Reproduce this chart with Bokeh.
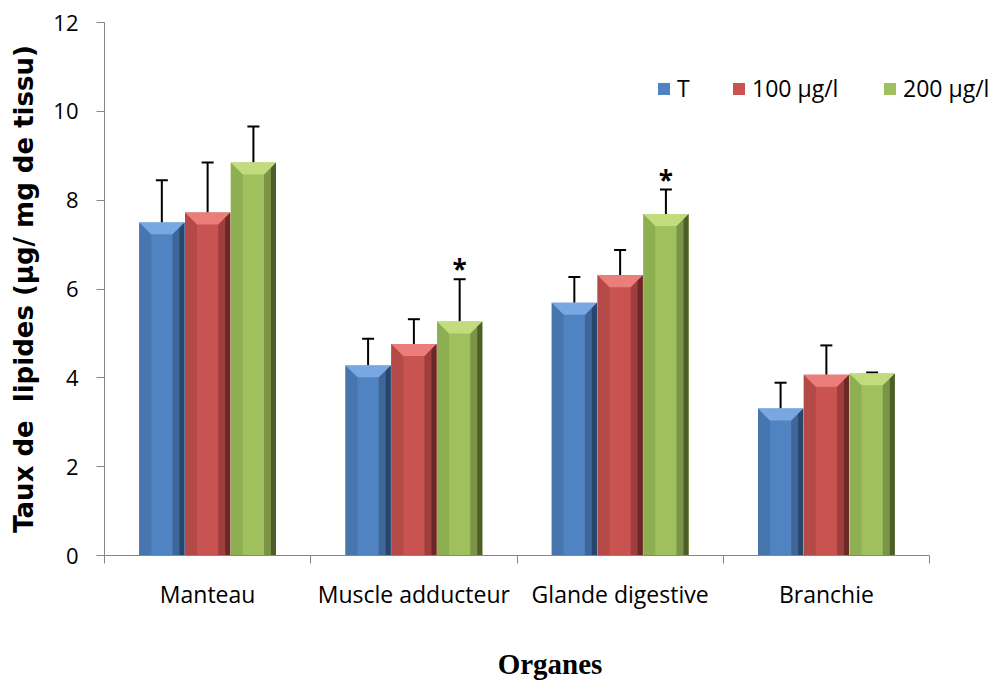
from bokeh.plotting import figure
from bokeh.models import (Range1d, FixedTicker, Whisker, TeeHead, Legend, LegendItem,
                          ColumnDataSource)
from bokeh.core.properties import value
from bokeh.embed import file_html
from bokeh.resources import INLINE

# ---------------- data ----------------
categories = ["Manteau", "Muscle adducteur", "Glande digestive", "Branchie"]
series = ["T", "100 µg/l", "200 µg/l"]
t_vals = [7.50, 4.28, 5.69, 3.31]
t_err = [0.95, 0.60, 0.58, 0.58]
c100_vals = [7.72, 4.76, 6.31, 4.07]
c100_err = [1.13, 0.56, 0.57, 0.66]
c200_vals = [8.85, 5.27, 7.69, 4.10]
c200_err = [0.81, 0.95, 0.55, 0.02]
c200_sig = ["", "*", "*", ""]
y_ticks = [0, 2, 4, 6, 8, 10, 12]

values = [t_vals, c100_vals, c200_vals]
errors = [t_err, c100_err, c200_err]
sigs = [["", "", "", ""], ["", "", "", ""], c200_sig]

# ---------------- styles ----------------
main_col = ["#5083c2", "#c95350", "#9fc05c"]
light_col = ["#78a7e2", "#eb7e7b", "#c0dc7c"]
left_col = ["#4775ae", "#b44a47", "#8eae52"]
mid_col = ["#3f6699", "#9e3f3d", "#7b9446"]
dark_col = ["#28456b", "#6b2826", "#4d5e2a"]
offsets = [-0.222, 0.0, 0.222]
bar_w = 0.219

W, H = 995, 682
FRAME_L, FRAME_R_DATA_PX = 104, 825   # 4 categories span 825 px
x_max = 4.0 * (W - FRAME_L) / FRAME_R_DATA_PX

p = figure(width=W, height=H, output_backend="svg", toolbar_location=None,
           x_range=Range1d(0, x_max), y_range=Range1d(0, 12),
           min_border_left=FRAME_L, min_border_right=0, min_border_top=22,
           min_border_bottom=126)
p.outline_line_color = None
p.xgrid.grid_line_color = None
p.ygrid.grid_line_color = None
p.background_fill_color = "white"
p.border_fill_color = "white"

px_x = 4.0 / 825.0
px_y = 12.0 / 534.0
inset_x = 12 * px_x
edge_x = 5 * px_x
bevel_y = 12 * px_y

font = value("Open Sans")
main_renderers = []
for j in range(3):
    xs = [i + 0.5 + offsets[j] for i in range(4)]
    tops = values[j]
    src = ColumnDataSource(dict(x=xs, top=tops))
    r = p.vbar(x="x", top="top", bottom=0, width=bar_w, source=src,
               fill_color=main_col[j], line_color=None)
    main_renderers.append(r)
    lefts = [x - bar_w / 2 for x in xs]
    rights = [x + bar_w / 2 for x in xs]
    # left bevel
    p.patches(xs=[[l, l, l + inset_x, l + inset_x] for l in lefts],
              ys=[[0, t, t - bevel_y, 0] for t in tops],
              fill_color=left_col[j], line_color=None)
    # right bevel (two tones)
    p.patches(xs=[[r_, r_, r_ - inset_x, r_ - inset_x] for r_ in rights],
              ys=[[0, t, t - bevel_y, 0] for t in tops],
              fill_color=mid_col[j], line_color=None)
    p.patches(xs=[[r_, r_, r_ - edge_x, r_ - edge_x] for r_ in rights],
              ys=[[0, t, t - bevel_y * edge_x / inset_x, 0] for t in tops],
              fill_color=dark_col[j], line_color=None)
    # top bevel
    p.patches(xs=[[l, r_, r_ - inset_x, l + inset_x] for l, r_ in zip(lefts, rights)],
              ys=[[t, t, t - bevel_y, t - bevel_y] for t in tops],
              fill_color=light_col[j], line_color=None)
    # error bars (upper only)
    esrc = ColumnDataSource(dict(x=xs, lo=tops,
                                 hi=[t + e for t, e in zip(tops, errors[j])]))
    wh = Whisker(base="x", lower="lo", upper="hi", source=esrc, dimension="height",
                 line_color="black", line_width=2, lower_head=None,
                 upper_head=TeeHead(size=12, line_width=2, line_color="black"))
    p.add_layout(wh)
    # significance marks
    sx = [x for x, s in zip(xs, sigs[j]) if s]
    sy = [t + e for t, e, s in zip(tops, errors[j], sigs[j]) if s]
    st = [s for s in sigs[j] if s]
    if st:
        p.text(x=sx, y=sy, text=st, text_align="center", text_baseline="bottom",
               y_offset=8, text_font=font, text_font_size="26px",
               text_font_style="bold", text_color="black")

# ---------------- axes ----------------
ax_col = "#868686"
yax = p.yaxis[0]
yax.ticker = FixedTicker(ticks=y_ticks)
yax.axis_line_color = ax_col
yax.major_tick_line_color = ax_col
yax.major_tick_out = 8
yax.major_tick_in = 0
yax.minor_tick_line_color = None
yax.major_label_text_font = "Open Sans"
yax.major_label_text_font_size = "22px"
yax.major_label_text_color = "black"
yax.major_label_standoff = 18
yax.axis_label = "Taux de\u00a0 lipides (µg/ mg de tissu)"
yax.axis_label_text_font = "DejaVu Sans"
yax.axis_label_text_font_size = "26px"
yax.axis_label_text_font_style = "bold"
yax.axis_label_text_color = "black"
yax.axis_label_standoff = 11

xax = p.xaxis[0]
xax.bounds = (0, 4)
xax.ticker = FixedTicker(ticks=[i + 0.5 for i in range(4)], minor_ticks=[0, 1, 2, 3, 4])
xax.major_label_overrides = {i + 0.5: c for i, c in enumerate(categories)}
xax.axis_line_color = ax_col
xax.major_tick_line_color = None
xax.major_tick_out = 0
xax.major_tick_in = 0
xax.minor_tick_line_color = ax_col
xax.minor_tick_out = 8
xax.minor_tick_in = 0
xax.major_label_text_font = "Open Sans"
xax.major_label_text_font_size = "23px"
xax.major_label_text_color = "black"
xax.major_label_standoff = 14
xax.axis_label = "Organes"
xax.axis_label_text_font = "Liberation Serif"
xax.axis_label_text_font_size = "29px"
xax.axis_label_text_font_style = "bold"
xax.axis_label_text_color = "black"
xax.axis_label_standoff = 35

# ---------------- legend ----------------
leg_x = [552, 627, 778]
for j in range(3):
    leg = Legend(items=[LegendItem(label=series[j], renderers=[main_renderers[j]])],
                 location=(leg_x[j], 451), orientation="horizontal",
                 glyph_width=15, glyph_height=15, label_height=15,
                 label_standoff=6, padding=0, margin=0, spacing=0,
                 border_line_color=None, background_fill_alpha=0,
                 label_text_font="Open Sans", label_text_font_size="23px",
                 label_text_color="black")
    p.add_layout(leg, "center")

open("out.html", "w").write(file_html(p, INLINE))
